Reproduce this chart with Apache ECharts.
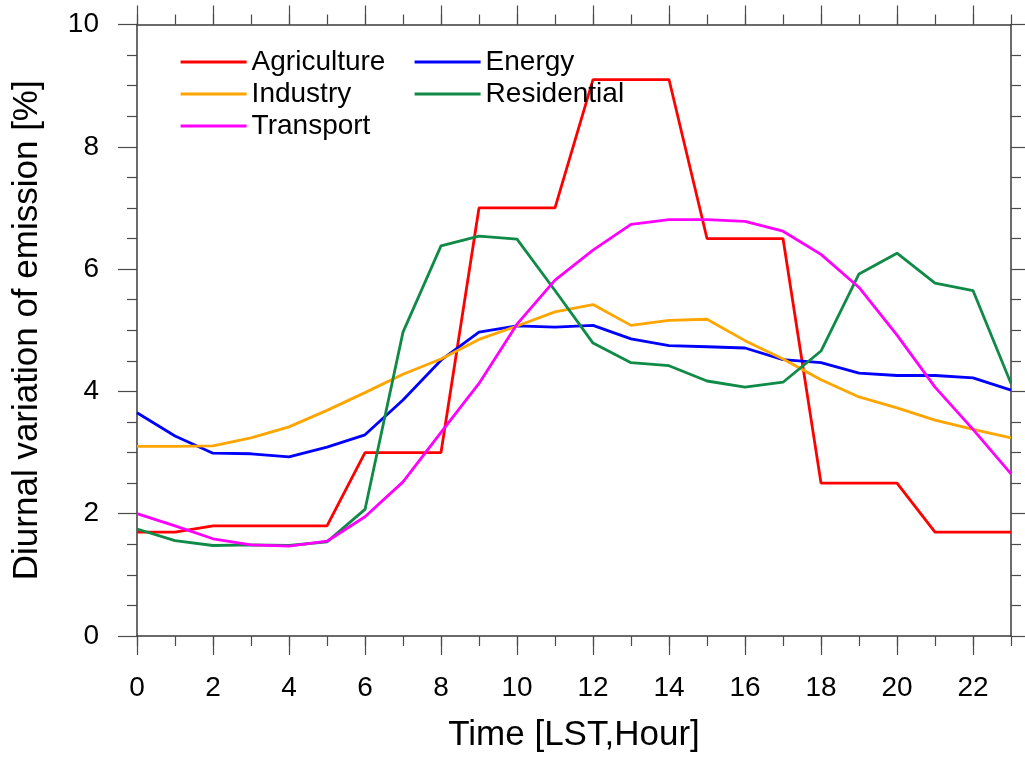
<!DOCTYPE html>
<html>
<head>
<meta charset="utf-8">
<script src="https://cdn.jsdelivr.net/npm/echarts@6/dist/echarts.min.js"></script>
<style>
  html, body { margin: 0; padding: 0; background: #fff; }
  #chart { width: 1025px; height: 760px; }
</style>
</head>
<body>
<div id="chart"></div>
<script>
// Local standard time, hour of day
const hours = ['0','1','2','3','4','5','6','7','8','9','10','11','12','13','14','15','16','17','18','19','20','21','22','23'];

// Diurnal emission profiles per sector [%]
const agriculture = [1.7,1.7,1.8,1.8,1.8,1.8,3.0,3.0,3.0,7.0,7.0,7.0,9.1,9.1,9.1,6.5,6.5,6.5,2.5,2.5,2.5,1.7,1.7,1.7];
const energy      = [3.65,3.27,2.99,2.98,2.93,3.09,3.29,3.86,4.51,4.97,5.07,5.05,5.08,4.86,4.75,4.73,4.71,4.52,4.47,4.30,4.26,4.26,4.22,4.02];
const industry    = [3.10,3.10,3.11,3.24,3.42,3.69,3.98,4.28,4.53,4.85,5.07,5.30,5.42,5.08,5.16,5.18,4.83,4.53,4.19,3.91,3.73,3.53,3.38,3.24];
const residential = [1.75,1.56,1.48,1.49,1.48,1.54,2.07,4.97,6.38,6.54,6.49,5.65,4.79,4.47,4.42,4.17,4.07,4.15,4.66,5.92,6.26,5.77,5.65,4.13];
const transport   = [2.00,1.80,1.59,1.49,1.47,1.55,1.95,2.52,3.33,4.13,5.10,5.82,6.31,6.73,6.81,6.81,6.78,6.62,6.24,5.70,4.92,4.07,3.38,2.65];

const FONT = '"Liberation Sans", Arial, Helvetica, sans-serif';
const frameLine = { show: true, lineStyle: { color: '#3a3a3a', width: 1.5 } };
const tickStyle = { color: '#4a4a4a', width: 1.2 };

// Category x axis: one copy draws hourly (minor) ticks, another draws the
// two-hourly (major) ticks and labels; mirrored on the top edge.
function hourAxis(position, major, withLabels) {
  const ax = {
    type: 'category',
    data: hours,
    boundaryGap: false,
    position: position,
    axisLine: major ? { show: false } : frameLine,
    axisTick: {
      show: true,
      inside: false,
      interval: major ? 1 : 0,
      length: major ? 19 : 10,
      lineStyle: tickStyle
    },
    axisLabel: { show: false },
    splitLine: { show: false }
  };
  if (withLabels) {
    ax.axisLabel = {
      show: true, interval: 1, margin: 38,
      fontSize: 28, color: '#000', fontFamily: FONT
    };
    ax.name = 'Time [LST,Hour]';
    ax.nameLocation = 'middle';
    ax.nameGap = 82;
    ax.nameTextStyle = { fontSize: 35, color: '#000', fontFamily: FONT };
  }
  return ax;
}

function valueAxis(position, withLabels) {
  const ax = {
    type: 'value',
    position: position,
    min: 0, max: 10, interval: 2,
    axisLine: frameLine,
    axisTick: { show: true, inside: false, length: 19, lineStyle: tickStyle },
    minorTick: { show: true, splitNumber: 4, length: 10, lineStyle: tickStyle },
    axisLabel: { show: false },
    splitLine: { show: false },
    minorSplitLine: { show: false }
  };
  if (withLabels) {
    ax.axisLabel = { show: true, margin: 38, fontSize: 28, color: '#000', fontFamily: FONT };
    ax.name = 'Diurnal variation of emission [%]';
    ax.nameLocation = 'middle';
    ax.nameGap = 92;
    ax.nameTextStyle = { fontSize: 35, color: '#000', fontFamily: FONT };
  }
  return ax;
}

function sector(name, values, color) {
  return {
    name: name,
    type: 'line',
    data: values,
    xAxisIndex: 0,
    yAxisIndex: 0,
    symbol: 'none',
    lineStyle: { color: color, width: 2.8 },
    itemStyle: { color: color }
  };
}

// Legend shows plain line swatches (the marker glyph is hidden)
const legendBase = {
  orient: 'vertical',
  top: 46,
  padding: 0,
  itemGap: 0,
  itemWidth: 66,
  itemHeight: 14,
  selectedMode: false,
  itemStyle: { opacity: 0 },
  lineStyle: { width: 3.2 },
  textStyle: { fontSize: 28, lineHeight: 32, color: '#000', fontFamily: FONT }
};

const chart = echarts.init(document.getElementById('chart'), null, { renderer: 'canvas' });
chart.setOption({
  animation: false,
  backgroundColor: '#fff',
  textStyle: { fontFamily: FONT },
  grid: { left: 137, right: 14, top: 24.5, bottom: 124, containLabel: false, outerBoundsMode: 'none' },
  legend: [
    Object.assign({}, legendBase, { left: 179, data: ['Agriculture', 'Industry', 'Transport'] }),
    Object.assign({}, legendBase, { left: 413, data: ['Energy', 'Residential'] })
  ],
  xAxis: [
    hourAxis('bottom', false, false),
    hourAxis('bottom', true, true),
    hourAxis('top', false, false),
    hourAxis('top', true, false)
  ],
  yAxis: [
    valueAxis('left', true),
    valueAxis('right', false)
  ],
  series: [
    sector('Agriculture', agriculture, '#ff0000'),
    sector('Energy', energy, '#0000ff'),
    sector('Industry', industry, '#ffa500'),
    sector('Residential', residential, '#0f8a47'),
    sector('Transport', transport, '#ff00ff')
  ]
});
</script>
</body>
</html>
